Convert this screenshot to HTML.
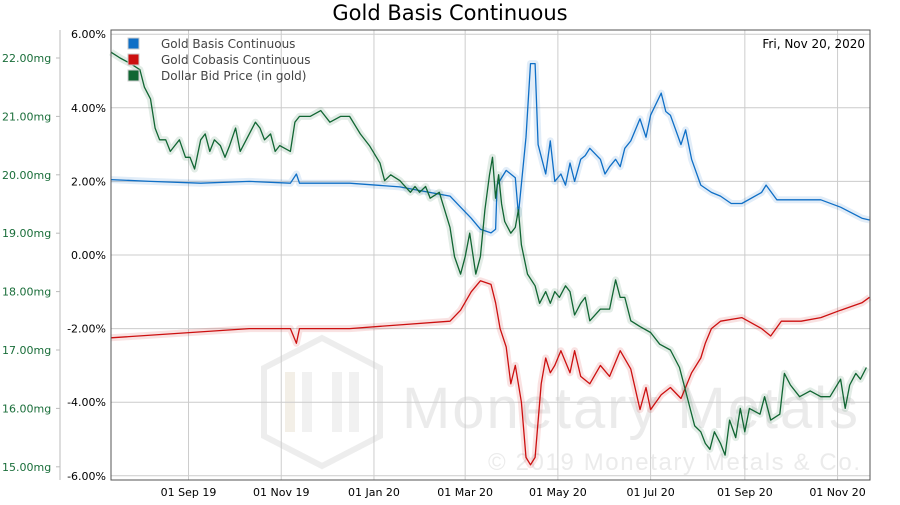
<!DOCTYPE html>
<html><head><meta charset="utf-8"><style>
body{margin:0;background:#fff;font-family:"Liberation Sans",sans-serif}
svg text{font-family:"DejaVu Sans","Liberation Sans",sans-serif}
svg text.wm{font-family:"Liberation Sans",sans-serif}
</style></head><body>
<svg id="c" width="900" height="500" xmlns="http://www.w3.org/2000/svg">
<text x="450" y="20" text-anchor="middle" font-size="21" fill="#000">Gold Basis Continuous</text>
<g opacity="0.5">
<polygon points="322,338 380,368 380,436 322,466 264,436 264,368" fill="none" stroke="#ddd" stroke-width="6"/>
<rect x="285" y="372" width="10" height="60" fill="#e8e0d0"/><rect x="302" y="372" width="10" height="60" fill="#e5e5e5"/><rect x="332" y="372" width="10" height="60" fill="#e5e5e5"/><rect x="349" y="372" width="10" height="60" fill="#e5e5e5"/>
<text class="wm" x="402" y="428" font-size="58" fill="#d8d8d8" textLength="456">Monetary Metals</text>
<text class="wm" x="488" y="470" font-size="24" fill="#d8d8d8" textLength="372">© 2019 Monetary Metals &amp; Co.</text>
</g>
<g id="grid"></g>
<g id="axes"></g>
<g id="series"></g>
<rect x="111" y="30" width="759" height="450" fill="none" stroke="#555" stroke-width="1"/>
<line x1="60" y1="30" x2="60" y2="480" stroke="#bbb"/>
<g font-size="12" fill="#444">
<g><rect x="128" y="38" width="11" height="11" fill="#0f6fc6" stroke="#ccc"/><text x="161" y="48" fill="#444">Gold Basis Continuous</text></g>
<g><rect x="128" y="54" width="11" height="11" fill="#cc1010" stroke="#ccc"/><text x="161" y="64" fill="#444">Gold Cobasis Continuous</text></g>
<g><rect x="128" y="70" width="11" height="11" fill="#116633" stroke="#ccc"/><text x="161" y="80" fill="#444">Dollar Bid Price (in gold)</text></g>
</g>
<text x="865" y="48" text-anchor="end" font-size="12" fill="#000">Fri, Nov 20, 2020</text>
</svg>
<script>
// days since 2019-07-12
const pctTicks=[6,4,2,0,-2,-4,-6];
const mgTicks=[22,21,20,19,18,17,16,15];
const xTickLabels=["01 Sep 19","01 Nov 19","01 Jan 20","01 Mar 20","01 May 20","01 Jul 20","01 Sep 20","01 Nov 20"];
const xTickDays=[51,112,173,233,294,355,417,478];
const basisDays=[0,26,59,91,118,122,124,157,190,223,230,237,243,250,253,254,260,266,268,273,276,279,281,286,289,292,296,299,302,305,309,312,315,322,325,328,332,335,338,342,348,352,355,362,365,368,375,378,382,388,395,401,408,415,428,431,438,448,454,467,480,494,499];
const basisVals=[2.05,2.0,1.95,2.0,1.95,2.2,1.95,1.95,1.85,1.6,1.3,1.0,0.7,0.6,0.7,1.9,2.3,2.1,1.1,3.2,5.2,5.2,3.0,2.2,3.1,2.0,2.2,1.9,2.5,2.0,2.6,2.7,2.9,2.6,2.2,2.4,2.6,2.4,2.9,3.1,3.7,3.2,3.8,4.4,3.9,3.8,3.0,3.4,2.6,1.9,1.7,1.6,1.4,1.4,1.7,1.9,1.5,1.5,1.5,1.5,1.3,1.0,0.95];
const cobasisDays=[0,91,118,122,124,157,190,223,230,237,243,250,253,256,260,263,266,270,273,276,279,283,286,289,292,296,302,305,309,315,322,328,335,342,348,352,355,362,368,375,382,388,391,395,401,415,428,434,441,454,467,480,494,499];
const cobasisVals=[-2.25,-2.0,-2.0,-2.4,-2.0,-2.0,-1.9,-1.8,-1.5,-1.0,-0.7,-0.8,-1.3,-2.0,-2.5,-3.5,-3.0,-4.0,-5.5,-5.7,-5.5,-3.5,-2.8,-3.2,-3.0,-2.6,-3.2,-2.6,-3.3,-3.5,-3.0,-3.3,-2.6,-3.1,-4.2,-3.6,-4.2,-3.8,-3.6,-3.9,-3.2,-2.8,-2.4,-2.0,-1.8,-1.7,-2.0,-2.2,-1.8,-1.8,-1.7,-1.5,-1.3,-1.15];
const dollarDays=[0,6,13,19,22,26,29,32,36,39,42,45,49,52,55,59,62,65,68,72,75,78,82,85,91,95,98,101,105,108,111,118,121,124,131,138,144,151,157,164,170,177,180,184,190,197,200,203,207,210,216,223,226,230,233,236,240,243,246,249,251,253,255,257,259,263,266,268,270,274,279,282,286,289,292,295,299,302,305,309,312,315,322,328,332,335,338,342,348,355,361,368,374,378,381,384,388,391,394,397,401,404,407,411,414,417,420,427,430,434,440,443,447,453,460,467,473,480,483,486,490,493,497];
const dollarVals=[22.1,22.0,21.9,21.8,21.5,21.3,20.8,20.6,20.6,20.4,20.5,20.6,20.3,20.3,20.1,20.6,20.7,20.4,20.6,20.5,20.3,20.5,20.8,20.4,20.7,20.9,20.8,20.6,20.7,20.4,20.5,20.4,20.9,21.0,21.0,21.1,20.9,21.0,21.0,20.7,20.5,20.2,19.9,20.0,19.9,19.7,19.8,19.7,19.8,19.6,19.7,19.1,18.6,18.3,18.6,19.0,18.3,18.6,19.4,20.0,20.3,19.6,20.0,19.5,19.2,19.0,19.1,19.4,18.8,18.3,18.1,17.8,18.0,17.8,18.0,17.9,18.1,18.0,17.6,17.8,17.9,17.5,17.7,17.7,18.2,17.9,17.9,17.5,17.4,17.3,17.1,17.0,16.7,16.3,16.0,15.7,15.6,15.4,15.3,15.6,15.4,15.2,15.8,15.5,16.0,15.6,16.0,15.9,16.2,15.8,15.9,16.6,16.4,16.2,16.3,16.2,16.2,16.5,16.0,16.4,16.6,16.5,16.7];

const NS="http://www.w3.org/2000/svg";
const xS=d=>111+d*1.52;
const yP=v=>255-v*36.8;
const yM=v=>58+(22-v)*58.4;
function mk(tag,attrs,parent){const e=document.createElementNS(NS,tag);for(const k in attrs)e.setAttribute(k,attrs[k]);parent.appendChild(e);return e;}
const grid=document.getElementById('grid'),axes=document.getElementById('axes'),ser=document.getElementById('series');
pctTicks.forEach(v=>{
  const l=mk('line',{x1:111,x2:870,y1:yP(v),y2:yP(v),stroke:'#ccc'},grid);
  
  
  const t=mk('text',{x:106,y:yP(v)+4,'text-anchor':'end','font-size':11,fill:'#000'},axes);
  t.textContent=v.toFixed(2)+'%';
  
  
});
mgTicks.forEach(v=>{
  const t=mk('text',{x:2,y:yM(v)+4,'font-size':11,fill:'#1a6e3a'},axes);
  t.textContent=v.toFixed(2)+'mg';
  
  
  const k=mk('line',{x1:56,x2:60,y1:yM(v),y2:yM(v),stroke:'#bbb'},axes);
  
  
});
xTickDays.forEach((d,i)=>{
  const l=mk('line',{x1:xS(d),x2:xS(d),y1:30,y2:480,stroke:'#ccc'},grid);
  
  
  const t=mk('text',{x:xS(d),y:496,'text-anchor':'middle','font-size':11,fill:'#000'},axes);
  t.textContent=xTickLabels[i];
  
  
});
function line(days,vals,ys,color,name){
  const pts=days.map((d,i)=>xS(d).toFixed(1)+','+ys(vals[i]).toFixed(1)).join(' ');
  const g=mk('polyline',{points:pts,fill:'none',stroke:color,'stroke-width':7,'stroke-opacity':0.12,'stroke-linejoin':'round'},ser);
  
  
  const p=mk('polyline',{points:pts,fill:'none',stroke:color,'stroke-width':1.3,'stroke-linejoin':'round'},ser);
  
  
}
line(basisDays,basisVals,yP,'#0f6fc6','basis');
line(cobasisDays,cobasisVals,yP,'#cc1010','cobasis');
line(dollarDays,dollarVals,yM,'#116633','dollar');
</script>
</body></html>
